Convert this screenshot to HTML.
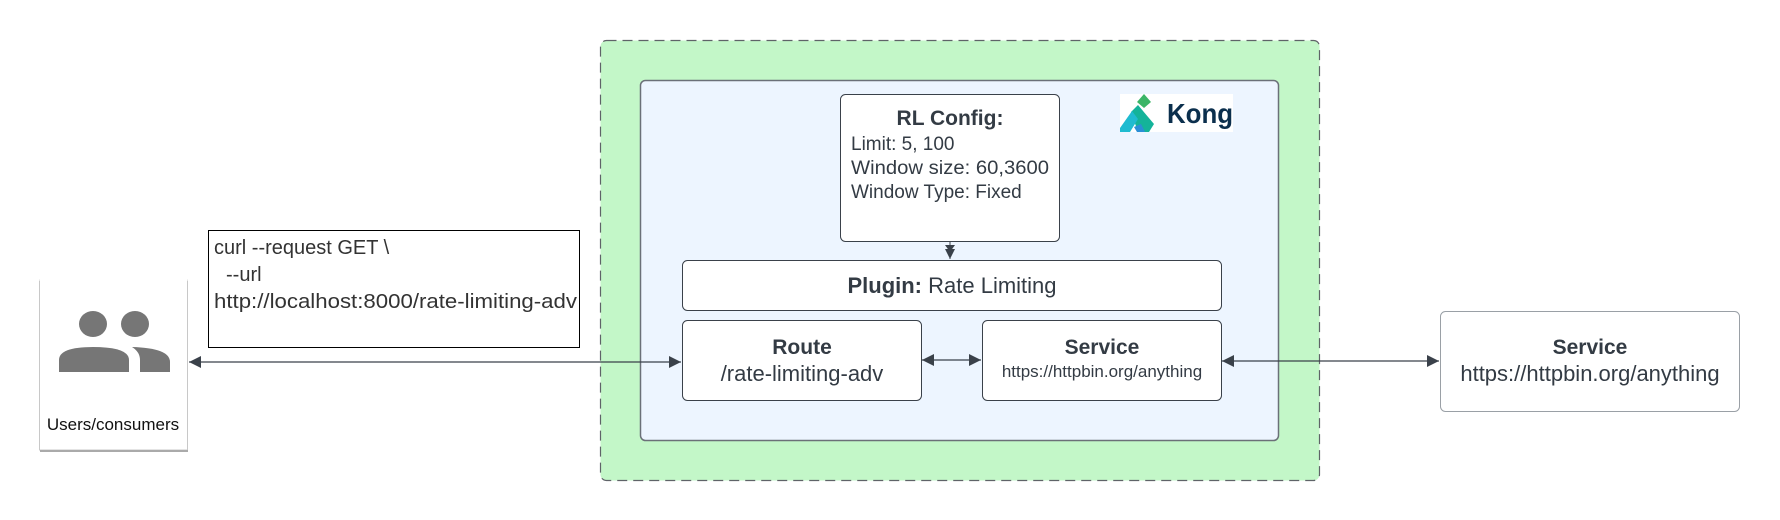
<!DOCTYPE html>
<html><head><meta charset="utf-8"><style>
html,body{margin:0;padding:0;background:#fff;}
svg{display:block;font-family:"Liberation Sans",Arial,sans-serif;}
</style></head><body>
<svg width="1780" height="520" viewBox="0 0 1780 520" xmlns="http://www.w3.org/2000/svg">
<defs>
<marker id="ah" viewBox="0 0 10 10" refX="10" refY="5" markerWidth="10" markerHeight="10" markerUnits="userSpaceOnUse" orient="auto-start-reverse">
<path d="M0,0 L10,5 L0,10 z" fill="#3a414a"/></marker>
<marker id="ah2" viewBox="0 0 12 12" refX="12" refY="6" markerWidth="12" markerHeight="12" markerUnits="userSpaceOnUse" orient="auto-start-reverse">
<path d="M0,0 L12,6 L0,12 z" fill="#3a414a"/></marker>
</defs>
<rect x="600.5" y="40.5" width="719" height="440" rx="6" fill="#c3f7c8" stroke="#5f6368" stroke-width="1.2" stroke-dasharray="10,6"/>
<rect x="640.5" y="80.5" width="638" height="360" rx="5" fill="#edf5ff" stroke="#6b7078" stroke-width="1.5"/>
<rect x="840.5" y="94.5" width="219" height="147" rx="5" fill="#fff" stroke="#3a414a" stroke-width="1"/>
<text x="950" y="125" font-size="21" font-weight="bold" fill="#333b44" text-anchor="middle">RL Config:</text>
<text x="851" y="150" font-size="19" fill="#333b44">Limit: 5, 100</text>
<text x="851" y="174" font-size="19" fill="#333b44" textLength="198" lengthAdjust="spacingAndGlyphs">Window size: 60,3600</text>
<text x="851" y="198" font-size="19" fill="#333b44">Window Type: Fixed</text>
<line x1="950" y1="242" x2="950" y2="259" stroke="#3a414a" stroke-width="1" marker-end="url(#ah)"/>
<path d="M945,245 L955,245 L950,252 z" fill="#3a414a"/>
<!-- Kong logo -->
<rect x="1120" y="94" width="113" height="38" fill="#fff"/>
<path d="M1137,102 L1144,94 L1151,102 L1144,108 z" fill="#3bb567"/>
<path d="M1131,112 L1138,105 L1154,124 L1149,132 L1138,132 z" fill="#14b39a"/>
<path d="M1120,128 L1132,111 L1138,119 L1130,132 L1120,132 z" fill="#1fbbd0"/>
<path d="M1134,127 L1141,124 L1145,132 L1137,132 z" fill="#2a8fd6"/>
<text x="1167" y="123" font-size="28" font-weight="bold" fill="#0b2f4d" textLength="66" lengthAdjust="spacingAndGlyphs">Kong</text>
<rect x="682.5" y="260.5" width="539" height="50" rx="5" fill="#fff" stroke="#3a414a" stroke-width="1"/>
<text x="952" y="293" font-size="22" fill="#333b44" text-anchor="middle"><tspan font-weight="bold">Plugin:</tspan> Rate Limiting</text>
<rect x="682.5" y="320.5" width="239" height="80" rx="5" fill="#fff" stroke="#3a414a" stroke-width="1"/>
<text x="802" y="354" font-size="21" font-weight="bold" fill="#333b44" text-anchor="middle">Route</text>
<text x="802" y="381" font-size="22" fill="#333b44" text-anchor="middle">/rate-limiting-adv</text>
<rect x="982.5" y="320.5" width="239" height="80" rx="5" fill="#fff" stroke="#3a414a" stroke-width="1"/>
<text x="1102" y="354" font-size="21" font-weight="bold" fill="#333b44" text-anchor="middle">Service</text>
<text x="1102" y="377" font-size="17" fill="#333b44" text-anchor="middle">https://httpbin.org/anything</text>
<rect x="1440.5" y="311.5" width="299" height="100" rx="5" fill="#fff" stroke="#9aa0a6" stroke-width="1"/>
<text x="1590" y="354" font-size="21" font-weight="bold" fill="#333b44" text-anchor="middle">Service</text>
<text x="1590" y="381" font-size="22" fill="#333b44" text-anchor="middle">https://httpbin.org/anything</text>
<rect x="39.5" y="280" width="148" height="170" fill="#fff" stroke="#c8c8c8" stroke-width="1"/>
<line x1="40" y1="451" x2="188" y2="451" stroke="#aaa" stroke-width="2"/>
<line x1="39.5" y1="280" x2="187.5" y2="280" stroke="#fff" stroke-width="2"/>
<ellipse cx="93" cy="324" rx="14" ry="13" fill="#767676"/>
<ellipse cx="135" cy="324" rx="14" ry="13" fill="#767676"/>
<path d="M59,372 L59,360 Q59,347 93,347 Q129,347 129,360 L129,372 z" fill="#767676"/>
<path d="M132,347 Q170,348 170,362 L170,372 L140,372 L140,360 Q140,352 132,347 z" fill="#767676"/>
<text x="113" y="430" font-size="17" fill="#111" text-anchor="middle">Users/consumers</text>
<rect x="208.5" y="230.5" width="371" height="117" fill="#fff" stroke="#000" stroke-width="1"/>
<text x="214" y="254" font-size="20" fill="#333">curl --request GET \</text>
<text x="226" y="281" font-size="20" fill="#333">--url</text>
<text x="214" y="308" font-size="20" fill="#333" textLength="363" lengthAdjust="spacingAndGlyphs">http://localhost:8000/rate-limiting-adv</text>
<line x1="189" y1="362" x2="681" y2="362" stroke="#3a414a" stroke-width="1.2" marker-start="url(#ah2)" marker-end="url(#ah2)"/>
<line x1="922" y1="360" x2="981" y2="360" stroke="#3a414a" stroke-width="1.2" marker-start="url(#ah2)" marker-end="url(#ah2)"/>
<line x1="1222" y1="361" x2="1439" y2="361" stroke="#3a414a" stroke-width="1.2" marker-start="url(#ah2)" marker-end="url(#ah2)"/>
</svg>
</body></html>
